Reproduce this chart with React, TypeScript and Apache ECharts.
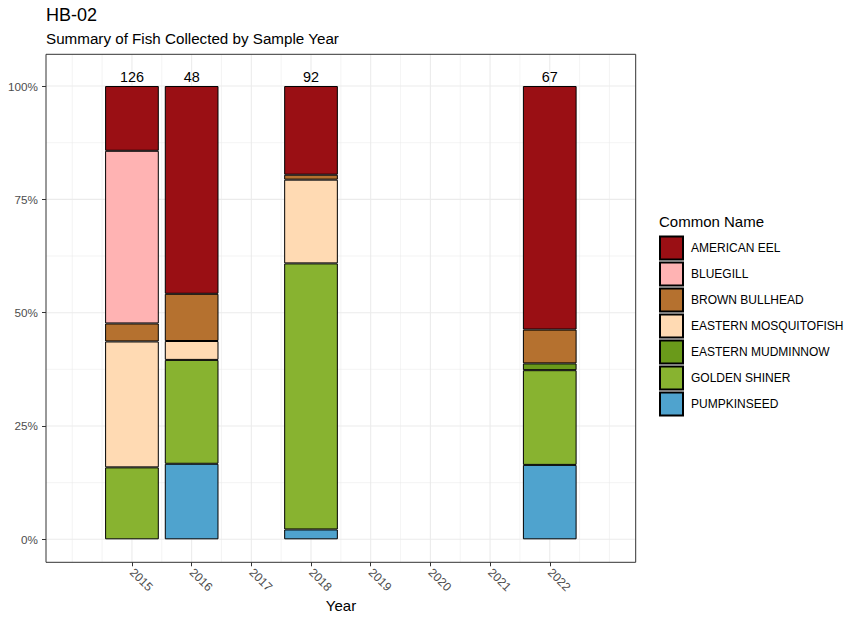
import React, { useEffect, useRef } from "react";
import * as echarts from "echarts";

const years = [2015, 2016, 2018, 2022];
const americanEel = [18, 22, 18, 36];
const bluegill = [48, 0, 0, 0];
const brownBullhead = [5, 5, 1, 5];
const easternMosquitofish = [35, 2, 17, 0];
const easternMudminnow = [0, 0, 0, 1];
const goldenShiner = [20, 11, 54, 14];
const pumpkinseed = [0, 8, 2, 11];

const xTickYears = [2015, 2016, 2017, 2018, 2019, 2020, 2021, 2022];
const xMinorGrid = [2014, 2014.5, 2015.5, 2016.5, 2017.5, 2018.5, 2019.5, 2020.5, 2021.5, 2022.5, 2023];
const yTicks = [0, 25, 50, 75, 100];
const yMinorGrid = [12.5, 37.5, 62.5, 87.5];

const X_MIN = 2013.56;
const X_MAX = 2023.44;
const Y_MIN = -5.07;
const Y_MAX = 107.0;

const FONT = "'Liberation Sans', Arial, sans-serif";

const speciesStack = [
  { name: "PUMPKINSEED", counts: pumpkinseed, color: "#4FA3CE" },
  { name: "GOLDEN SHINER", counts: goldenShiner, color: "#88B330" },
  { name: "EASTERN MUDMINNOW", counts: easternMudminnow, color: "#6A9A1A" },
  { name: "EASTERN MOSQUITOFISH", counts: easternMosquitofish, color: "#FFDAB3" },
  { name: "BROWN BULLHEAD", counts: brownBullhead, color: "#B5712F" },
  { name: "BLUEGILL", counts: bluegill, color: "#FFB3B3" },
  { name: "AMERICAN EEL", counts: americanEel, color: "#9A0F14" },
];

const legendOrder = [
  "AMERICAN EEL",
  "BLUEGILL",
  "BROWN BULLHEAD",
  "EASTERN MOSQUITOFISH",
  "EASTERN MUDMINNOW",
  "GOLDEN SHINER",
  "PUMPKINSEED",
];

export default function App() {
  const ref = useRef<HTMLDivElement>(null);

  useEffect(() => {
    if (!ref.current) return;
    const chart = echarts.init(ref.current, null, { renderer: "svg" });

    const totals = years.map((_, i) =>
      speciesStack.reduce((s, sp) => s + sp.counts[i], 0)
    );

    const gridData: number[][] = [];
    xTickYears.forEach((v) => gridData.push([v, 0, 1.07]));
    xMinorGrid.forEach((v) => gridData.push([v, 0, 0.53]));
    yTicks.forEach((v) => gridData.push([v, 1, 1.07]));
    yMinorGrid.forEach((v) => gridData.push([v, 1, 0.53]));

    // value first (dimension 0) so that the stack is computed on the y value
    const barSeries = speciesStack.map((sp) => ({
      name: sp.name,
      type: "bar",
      stack: "total",
      barWidth: 53.7,
      z: 3,
      encode: { x: 1, y: 0 },
      itemStyle: { color: sp.color, borderColor: "#000000", borderWidth: 1 },
      data: years.map((y, i) => [sp.counts[i] > 0 ? (sp.counts[i] / totals[i]) * 100 : null, y]),
      label:
        sp.name === "AMERICAN EEL"
          ? {
              show: true,
              position: "top",
              distance: 2,
              fontSize: 14.4,
              fontFamily: FONT,
              color: "#000000",
              lineHeight: 15,
              formatter: (p: any) => String(totals[p.dataIndex]),
            }
          : { show: false },
    }));

    const option: any = {
      animation: false,
      backgroundColor: "#FFFFFF",
      grid: { left: 46, right: 225.3, top: 54.3, bottom: 59.7, containLabel: false },
      xAxis: {
        type: "value",
        min: X_MIN,
        max: X_MAX,
        axisLine: { show: false, onZero: false },
        splitLine: { show: false },
        axisTick: {
          show: true,
          customValues: xTickYears,
          length: 4,
          lineStyle: { color: "#333333", width: 1 },
        },
        axisLabel: {
          customValues: xTickYears,
          formatter: (v: number) => String(v),
          rotate: -45,
          margin: 8,
          fontSize: 12,
          fontFamily: FONT,
          color: "#4D4D4D",
        },
      },
      yAxis: {
        type: "value",
        min: Y_MIN,
        max: Y_MAX,
        axisLine: { show: false, onZero: false },
        splitLine: { show: false },
        axisTick: {
          show: true,
          customValues: yTicks,
          length: 4,
          lineStyle: { color: "#333333", width: 1 },
        },
        axisLabel: {
          customValues: yTicks,
          formatter: (v: number) => `${v}%`,
          margin: 8,
          fontSize: 11.7,
          fontFamily: FONT,
          color: "#4D4D4D",
        },
      },
      legend: {
        data: legendOrder,
        orient: "vertical",
        left: 659,
        top: 235.5,
        padding: 0,
        itemWidth: 23,
        itemHeight: 23,
        itemGap: 1,
        icon: "rect",
        selectedMode: false,
        textStyle: {
          fontSize: 12,
          fontFamily: FONT,
          color: "#000000",
          padding: [0, 0, 0, 3],
        },
      },
      graphic: [
        {
          type: "text",
          x: 46,
          y: 15,
          style: { text: "HB-02", font: `18px ${FONT}`, fill: "#000000", align: "left", verticalAlign: "middle" },
        },
        {
          type: "text",
          x: 46,
          y: 38,
          style: {
            text: "Summary of Fish Collected by Sample Year",
            font: `15.2px ${FONT}`,
            fill: "#000000",
            align: "left",
            verticalAlign: "middle",
          },
        },
        {
          type: "text",
          x: 341,
          y: 605,
          style: { text: "Year", font: `15px ${FONT}`, fill: "#000000", align: "center", verticalAlign: "middle" },
        },
        {
          type: "text",
          x: 659,
          y: 221,
          style: { text: "Common Name", font: `15px ${FONT}`, fill: "#000000", align: "left", verticalAlign: "middle" },
        },
        {
          type: "rect",
          z: 100,
          shape: { x: 46, y: 54.3, width: 589.7, height: 508 },
          style: { fill: "none", stroke: "#333333", lineWidth: 1 },
          silent: true,
        },
      ],
      series: [
        {
          name: "grid-lines",
          type: "custom",
          z: 1,
          silent: true,
          data: gridData,
          encode: { x: 0, y: 1 },
          renderItem: (_params: any, api: any) => {
            const v = api.value(0);
            const dir = api.value(1);
            const w = api.value(2);
            let p1: number[];
            let p2: number[];
            if (dir === 0) {
              p1 = api.coord([v, Y_MIN]);
              p2 = api.coord([v, Y_MAX]);
            } else {
              p1 = api.coord([X_MIN, v]);
              p2 = api.coord([X_MAX, v]);
            }
            return {
              type: "line",
              shape: { x1: p1[0], y1: p1[1], x2: p2[0], y2: p2[1] },
              style: { stroke: "#EBEBEB", lineWidth: w },
              silent: true,
            };
          },
        },
        ...barSeries,
      ],
    };

    chart.setOption(option);
    return () => chart.dispose();
  }, []);

  return (
    <div
      ref={ref}
      style={{ position: "fixed", left: 0, top: 0, width: 861, height: 622, background: "#FFFFFF" }}
    />
  );
}
